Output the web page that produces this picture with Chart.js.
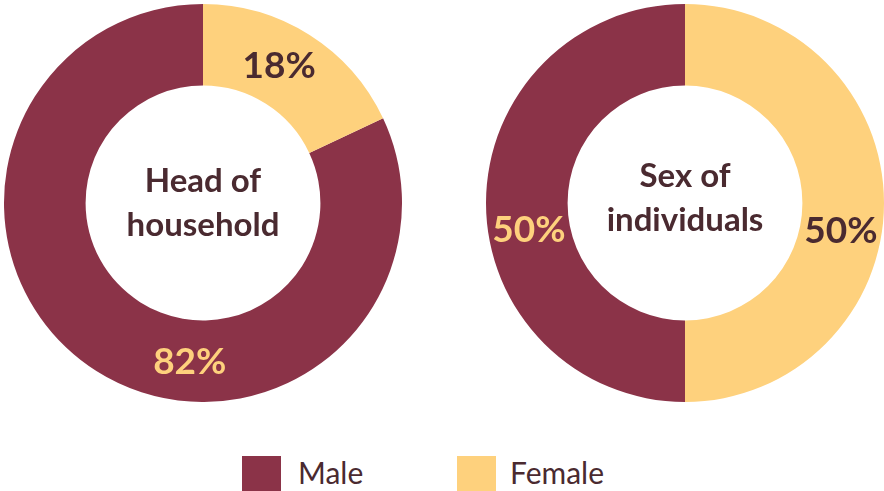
<!DOCTYPE html>
<html>
<head>
<meta charset="utf-8">
<script src="https://cdn.jsdelivr.net/npm/chart.js@4"></script>
<style>
  html, body { margin: 0; padding: 0; background: #fff; }
  #wrap { position: relative; width: 884px; height: 491px; overflow: hidden; font-family: 'Lato', sans-serif; }
  canvas { position: absolute; top: 4px; }
  #household { left: 4px; }
  #individuals { left: 486px; }
  .key { position: absolute; top: 456px; width: 39px; height: 35px; }
  .key-text { position: absolute; top: 452px; font-size: 30px; line-height: 40px; color: #4a2a30; }
</style>
</head>
<body>
<div id="wrap">
  <canvas id="household" width="398" height="398"></canvas>
  <canvas id="individuals" width="398" height="398"></canvas>
  <div id="legend"></div>
</div>
<script>
// ── Data ────────────────────────────────────────────
const categories = ['Male', 'Female'];
const householdHeads = [82, 18];
const individualsSex = [50, 50];
const centerTitles = {
  household: ['Head of', 'household'],
  individuals: ['Sex of', 'individuals']
};

const colors = ['#8b3348', '#fed17d'];
const labelColors = ['#fed17d', '#4a2a30'];
const darkText = '#4a2a30';

// draws the % numbers on the ring plus the title in the hole
const ringText = {
  id: 'ringText',
  afterDraw(chart, args, opts) {
    const ctx = chart.ctx;
    const meta = chart.getDatasetMeta(0);
    const values = chart.data.datasets[0].data;
    ctx.save();
    ctx.textAlign = 'center';
    ctx.textBaseline = 'alphabetic';
    ctx.font = "bold 37px 'Lato'";
    meta.data.forEach((arc, i) => {
      const r = (arc.innerRadius + arc.outerRadius) / 2;
      const a = opts.angles[i] * Math.PI / 180;
      const x = arc.x + r * Math.sin(a);
      const y = arc.y - r * Math.cos(a);
      ctx.fillStyle = labelColors[i];
      ctx.fillText(values[i] + '%', x, y + 37 * 0.36);
    });

    const cx = (chart.chartArea.left + chart.chartArea.right) / 2;
    const cy = (chart.chartArea.top + chart.chartArea.bottom) / 2;
    ctx.font = "bold 33px 'Lato'";
    ctx.fillStyle = darkText;
    opts.lines.forEach((line, i) => {
      ctx.fillText(line, cx, cy + opts.top + i * opts.lineHeight);
    });
    ctx.restore();
  }
};

function makeRing(id, values, angles, top) {
  const female = values[1] / values.reduce((s, v) => s + v, 0);
  return new Chart(document.getElementById(id), {
    type: 'doughnut',
    data: {
      labels: categories,
      datasets: [{
        data: values,
        backgroundColor: colors,
        borderWidth: 0,
        hoverOffset: 0
      }]
    },
    options: {
      responsive: false,
      devicePixelRatio: 1,
      animation: false,
      cutout: '59%',
      rotation: female * 360,
      layout: { padding: 0 },
      plugins: {
        legend: { display: false },
        tooltip: { enabled: false },
        ringText: { angles, lines: centerTitles[id], top, lineHeight: 44 }
      }
    },
    plugins: [ringText]
  });
}

makeRing('household', householdHeads, [184.8, 28.8], -11);
makeRing('individuals', individualsSex, [260.5, 99.6], -16);

// ── Legend ──────────────────────────────────────────
const legend = document.getElementById('legend');
const keyLeft = [242, 457];
const textLeft = [298, 510];
categories.forEach((name, i) => {
  const box = document.createElement('div');
  box.className = 'key';
  box.style.left = keyLeft[i] + 'px';
  box.style.background = colors[i];
  legend.appendChild(box);
  const txt = document.createElement('div');
  txt.className = 'key-text';
  txt.style.left = textLeft[i] + 'px';
  txt.textContent = name;
  legend.appendChild(txt);
});
</script>
</body>
</html>
